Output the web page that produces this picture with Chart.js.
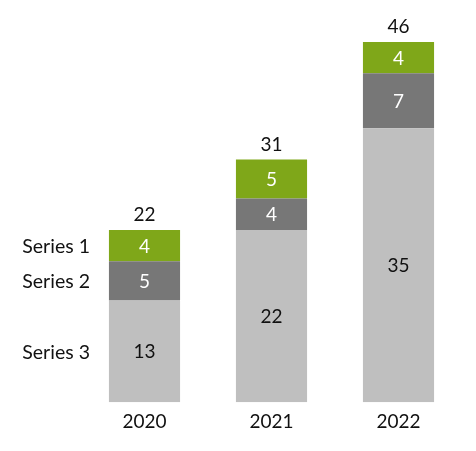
<!DOCTYPE html>
<html>
<head>
<meta charset="utf-8">
<script src="https://cdn.jsdelivr.net/npm/chart.js@4"></script>
<style>
  html, body { margin: 0; padding: 0; background: #fff; }
  #wrap { width: 476px; height: 451px; }
</style>
</head>
<body>
<div id="wrap"><canvas id="myChart"></canvas></div>
<script>
const years = ['2020', '2021', '2022']
const series1 = [4, 5, 4]
const series2 = [5, 4, 7]
const series3 = [13, 22, 35]
const seriesNames = ['Series 1', 'Series 2', 'Series 3']

const FONT = 'Lato, "Open Sans", sans-serif'

// labels inside segments, totals on top and series names left of first bar
const labelPlugin = {
  id: 'labels',
  afterDatasetsDraw(chart) {
    let ctx = chart.ctx
    ctx.save()
    ctx.font = '19px ' + FONT
    ctx.textAlign = 'center'
    ctx.textBaseline = 'middle'
    chart.data.datasets.forEach((ds, di) => {
      let meta = chart.getDatasetMeta(di)
      meta.data.forEach((bar, i) => {
        ctx.fillStyle = ds.labelColor
        ctx.fillText(ds.data[i], bar.x, (bar.y + bar.base) / 2 + 1)
      })
    })
    // totals above the top segment (series 1 is the last dataset)
    let topMeta = chart.getDatasetMeta(chart.data.datasets.length - 1)
    topMeta.data.forEach((bar, i) => {
      let total = series1[i] + series2[i] + series3[i]
      ctx.fillStyle = '#111'
      ctx.fillText(total, bar.x, bar.y - 15)
    })
    // series names beside first bar
    ctx.textAlign = 'right'
    ctx.font = '19.5px ' + FONT
    chart.data.datasets.forEach((ds, di) => {
      let bar = chart.getDatasetMeta(di).data[0]
      ctx.fillStyle = '#111'
      ctx.fillText(ds.label, bar.x - bar.width / 2 - 19, (bar.y + bar.base) / 2 + 1)
    })
    ctx.restore()
  }
}

let grapharea = document.getElementById('myChart')
let myChart = new Chart(grapharea, {
  type: 'bar',
  data: {
    labels: years,
    datasets: [
      { label: seriesNames[2], data: series3, backgroundColor: '#BFBFBF', labelColor: '#111' },
      { label: seriesNames[1], data: series2, backgroundColor: '#777777', labelColor: '#fff' },
      { label: seriesNames[0], data: series1, backgroundColor: '#7FA719', labelColor: '#fff' }
    ]
  },
  options: {
    responsive: true,
    maintainAspectRatio: false,
    animation: false,
    layout: { padding: { left: 81, right: 14, top: 42, bottom: 18 } },
    datasets: { bar: { categoryPercentage: 1, barPercentage: 0.56 } },
    plugins: { legend: { display: false }, tooltip: { enabled: false } },
    scales: {
      x: {
        stacked: true,
        grid: { display: false },
        border: { display: false },
        ticks: { color: '#111', padding: 0, font: { family: FONT, size: 19 } }
      },
      y: {
        stacked: true,
        display: false,
        min: 0,
        max: 46
      }
    }
  },
  plugins: [labelPlugin]
})
</script>
</body>
</html>
